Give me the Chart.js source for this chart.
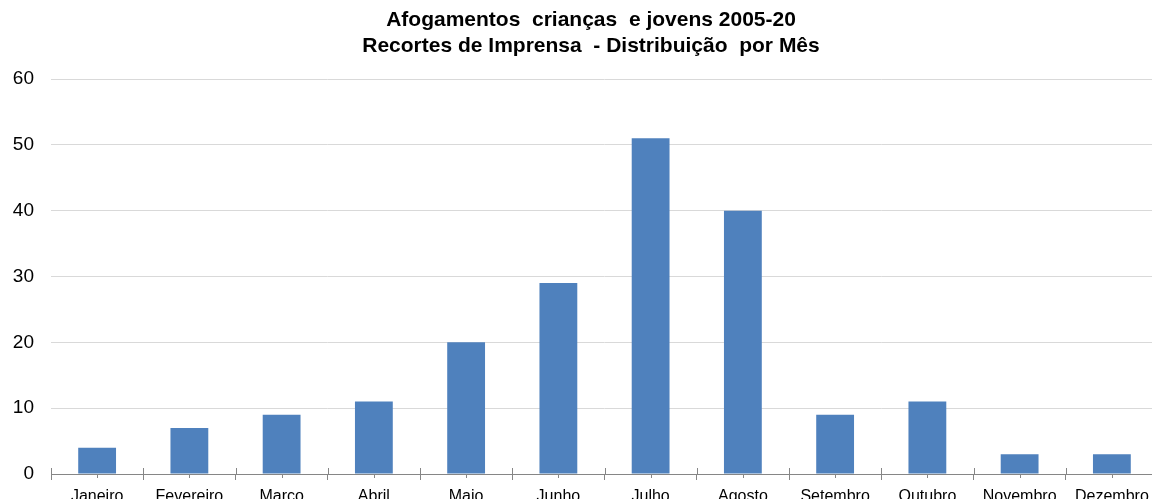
<!DOCTYPE html>
<html>
<head>
<meta charset="utf-8">
<script src="https://cdn.jsdelivr.net/npm/chart.js@4"></script>
<style>
  body { margin: 0; overflow: hidden; background: #fff; }
  #cadre { width: 1182px; height: 499px; }
</style>
</head>
<body>
<div id="cadre"><canvas id="graphique-meses"></canvas></div>
<script>
const meses = ["Janeiro", "Fevereiro", "Marco", "Abril", "Maio", "Junho", "Julho", "Agosto", "Setembro", "Outubro", "Novembro", "Dezembro"];
const afogamentos = [4, 7, 9, 11, 20, 29, 51, 40, 9, 11, 3, 3];
const titulo = ["Afogamentos  crianças  e jovens 2005-20", "Recortes de Imprensa  - Distribuição  por Mês"];

Chart.defaults.font.family = "'Liberation Sans', Arial, sans-serif";
Chart.defaults.color = "#000";

// traits de graduation comme l'original : limites au-dessus de l'axe, petits traits au centre en dessous
const traitsAxe = {
  id: "traitsAxe",
  afterDraw(chart) {
    const x = chart.scales.x;
    const ctx = chart.ctx;
    const bas = chart.chartArea.bottom;
    ctx.save();
    ctx.strokeStyle = "#868686";
    ctx.lineWidth = 1;
    ctx.beginPath();
    for (let i = 0; i <= meses.length; i++) {
      const px = Math.round(x.left + (x.width * i) / meses.length) + 0.5;
      ctx.moveTo(px, bas - 6);
      ctx.lineTo(px, bas);
    }
    for (let i = 0; i < meses.length; i++) {
      const px = Math.round(x.getPixelForValue(i)) + 0.5;
      ctx.moveTo(px, bas);
      ctx.lineTo(px, bas + 4);
    }
    ctx.stroke();
    ctx.restore();
  },
};

const data = {
  labels: meses,
  datasets: [
    {
      label: "Afogamentos",
      data: afogamentos,
      backgroundColor: "#4f81bd",
      borderWidth: 0,
      barPercentage: 0.41,
      categoryPercentage: 1,
    },
  ],
};

const config = {
  type: "bar",
  data: data,
  options: {
    responsive: true,
    maintainAspectRatio: false,
    animation: false,
    plugins: {
      legend: { display: false },
      tooltip: { enabled: false },
      title: {
        display: true,
        text: titulo,
        font: { size: 21, weight: "bold", lineHeight: 1.24 },
        padding: { top: 7, bottom: 20 },
      },
    },
    scales: {
      x: {
        grid: {
          offset: true,
          drawOnChartArea: false,
          tickLength: 6,
          color: "#868686",
        },
        border: { color: "#868686", width: 1 },
        ticks: { font: { size: 16 }, padding: 7, maxRotation: 0, autoSkip: false },
        afterFit: function (scale) {
          scale.height = 25;
        },
      },
      y: {
        min: 0,
        max: 60,
        ticks: { stepSize: 10, font: { size: 19 }, padding: 0 },
        grid: { color: "#d9d9d9", drawTicks: true, tickLength: 17, tickColor: "rgba(0,0,0,0)" },
        border: { display: false },
        afterFit: function (scale) {
          scale.width = 51;
        },
      },
      // axe vide à droite : la zone du graphique dépasse de la fenêtre comme dans l'original
      droite: {
        type: "linear",
        position: "right",
        display: true,
        grid: { display: false },
        ticks: { display: false },
        border: { display: false },
        afterFit: function (scale) {
          scale.width = 24;
        },
      },
    },
  },
  plugins: [traitsAxe],
};

new Chart(document.querySelector("#graphique-meses"), config);
</script>
</body>
</html>
